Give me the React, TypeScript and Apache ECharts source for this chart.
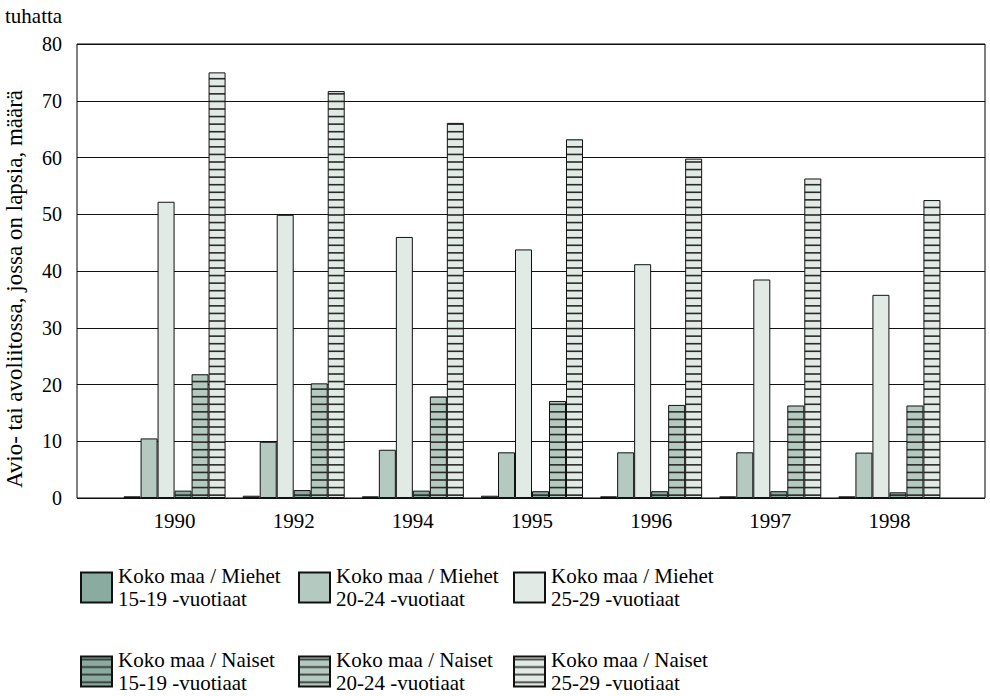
import React, { useEffect, useRef } from "react";
import * as echarts from "echarts";

const years = ["1990", "1992", "1994", "1995", "1996", "1997", "1998"];
const yTicks = [0, 10, 20, 30, 40, 50, 60, 70, 80];

const miehet1519 = [0.3, 0.4, 0.3, 0.4, 0.3, 0.3, 0.3];
const miehet2024 = [10.5, 9.9, 8.5, 8.05, 8.05, 8.05, 8.0];
const miehet2529 = [52.2, 49.9, 46.0, 43.8, 41.2, 38.5, 35.8];
const naiset1519 = [1.3, 1.4, 1.3, 1.2, 1.2, 1.2, 1.0];
const naiset2024 = [21.8, 20.2, 17.9, 17.1, 16.4, 16.3, 16.3];
const naiset2529 = [75.0, 71.7, 66.1, 63.2, 59.8, 56.3, 52.5];

const seriesNames = [
  "Koko maa / Miehet\n15-19 -vuotiaat",
  "Koko maa / Miehet\n20-24 -vuotiaat",
  "Koko maa / Miehet\n25-29 -vuotiaat",
  "Koko maa / Naiset\n15-19 -vuotiaat",
  "Koko maa / Naiset\n20-24 -vuotiaat",
  "Koko maa / Naiset\n25-29 -vuotiaat",
];
const seriesValues = [miehet1519, miehet2024, miehet2529, naiset1519, naiset2024, naiset2529];
const hatched = [false, false, false, true, true, true];

const C1 = "#8aab9f";
const C2 = "#b4c9c0";
const C3 = "#e2eae6";
const baseColors = [C1, C2, C3, C1, C2, C3];

const FONT = "'Liberation Serif', 'Times New Roman', serif";

function makeStripePattern(bg: string) {
  const h = 53;
  const w = 4;
  const c = document.createElement("canvas");
  c.width = w;
  c.height = h;
  const ctx = c.getContext("2d")!;
  ctx.fillStyle = bg;
  ctx.fillRect(0, 0, w, h);
  ctx.fillStyle = "#2a2a2a";
  for (let k = 0; k < 7; k++) {
    const cy = 3 + (k * 53) / 7;
    ctx.fillRect(0, cy - 0.8, w, 1.6);
  }
  return {
    image: c,
    repetition: "repeat",
    imageWidth: w,
    imageHeight: h,
    x: 0,
    y: 18,
  } as any;
}

export default function App() {
  const ref = useRef<HTMLDivElement>(null);
  useEffect(() => {
    if (!ref.current) return;
    const chart = echarts.init(ref.current, undefined, { renderer: "svg" });

    const legendPos = [
      { left: 80, top: 564 },
      { left: 298, top: 564 },
      { left: 513, top: 564 },
      { left: 80, top: 648 },
      { left: 298, top: 648 },
      { left: 513, top: 648 },
    ];

    const series = seriesNames.map((name, i) => ({
      name,
      type: "bar",
      xAxisIndex: 1,
      yAxisIndex: 1,
      barWidth: 17,
      barGap: "0%",
      data: seriesValues[i],
      itemStyle: {
        color: hatched[i] ? makeStripePattern(baseColors[i]) : baseColors[i],
        borderColor: "#111",
        borderWidth: 1,
      },
    }));

    chart.setOption({
      animation: false,
      grid: [
        {
          left: 77,
          top: 44,
          width: 908,
          height: 454,
          show: true,
          borderColor: "#000",
          borderWidth: 1,
          backgroundColor: "transparent",
        },
        { left: 115, top: 44, width: 834, height: 454 },
      ],
      xAxis: [
        { type: "value", gridIndex: 0, min: 0, max: 1, show: false },
        {
          type: "category",
          gridIndex: 1,
          data: years,
          axisLine: { show: false },
          axisTick: { show: false },
          axisLabel: { color: "#000", fontFamily: FONT, fontSize: 21, margin: 12 },
        },
      ],
      yAxis: [
        {
          type: "value",
          gridIndex: 0,
          min: 0,
          max: 80,
          interval: 10,
          axisLine: { show: false },
          axisTick: { show: false },
          axisLabel: {
            color: "#000",
            fontFamily: FONT,
            fontSize: 20,
            margin: 15,
            formatter: (v: number) => (yTicks.includes(v) ? String(v) : ""),
          },
          splitLine: { show: true, lineStyle: { color: "#111", width: 1.2 } },
        },
        { type: "value", gridIndex: 1, min: 0, max: 80, show: false },
      ],
      legend: seriesNames.map((name, i) => ({
        data: [name],
        left: legendPos[i].left,
        top: legendPos[i].top,
        padding: 0,
        itemWidth: 31,
        itemHeight: 30,
        icon: "rect",
        selectedMode: false,
        textStyle: {
          color: "#000",
          fontFamily: FONT,
          fontSize: 21,
          lineHeight: 23,
          padding: [1, 0, 0, 1],
        },
      })),
      graphic: [
        {
          type: "text",
          left: 5,
          top: 5,
          style: { text: "tuhatta", fill: "#000", font: `21px ${FONT}` },
        },
        {
          type: "text",
          x: 14,
          y: 289,
          rotation: Math.PI / 2,
          style: {
            text: "Avio- tai avoliitossa, jossa on lapsia, määrä",
            fill: "#000",
            font: `23px ${FONT}`,
            align: "center",
            verticalAlign: "middle",
          },
        },
      ],
      series,
    });
    return () => chart.dispose();
  }, []);
  return <div ref={ref} style={{ width: 990, height: 696, position: "absolute", left: 0, top: 0 }} />;
}
